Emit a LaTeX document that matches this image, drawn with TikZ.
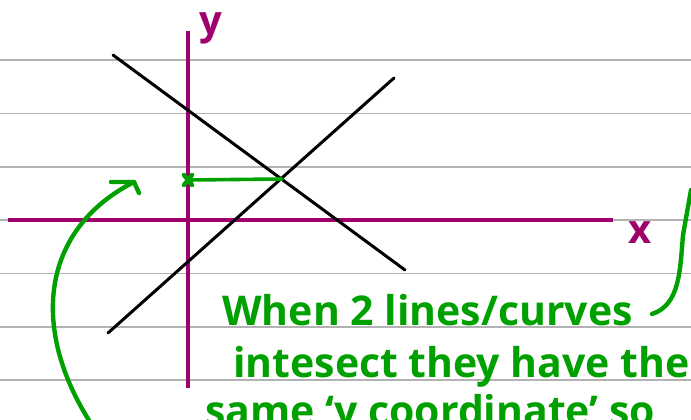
\documentclass[tikz,border=0pt]{standalone}
\usepackage{fontspec}
\setmainfont{Open Sans}
\usetikzlibrary{arrows.meta,calc}
\definecolor{rule}{RGB}{178,178,178}
\definecolor{axis}{RGB}{160,0,110}
\definecolor{pen}{RGB}{0,160,0}
\tikzset{
  ruleline/.style={rule, line width=1.6pt},
  axisline/.style={axis, line width=3.4pt},
  graphline/.style={black, line width=3pt, line cap=round},
  penline/.style={pen, line width=4.4pt, line cap=round, line join=round},
  pentext/.style={pen, anchor=base west, inner sep=0pt, font=\fontsize{41}{41}\selectfont\bfseries},
  axislabel/.style={axis, inner sep=0pt, font=\fontsize{40}{40}\selectfont\bfseries}
}
\begin{document}
\begin{tikzpicture}[x=1pt,y=-1pt]
\useasboundingbox (0,0) rectangle (691,420);
\clip (0,0) rectangle (691,420);
\fill[white] (0,0) rectangle (691,420);
% ruled paper
\foreach \yy in {60,113.3,166.7,220,273.3,326.7,380}
  \draw[ruleline] (0,\yy) -- (691,\yy);
% axes
\coordinate (ytop) at (188,31);
\coordinate (ybot) at (188,388);
\coordinate (xl) at (8,220);
\coordinate (xr) at (613,220);
\draw[axisline] (ybot) -- (ytop);
\draw[axisline] (xl) -- (xr);
\node[axislabel] (ylab) at (211,28) {y};
\node[axislabel] (xlab) at (640,233) {x};
% lines
\coordinate (a1) at (113,55);
\coordinate (a2) at (405,270);
\coordinate (b1) at (108,333);
\coordinate (b2) at (394,78);
\draw[graphline] (a1) -- (a2);
\draw[graphline] (b1) -- (b2);
% intersection projection
\coordinate (P) at (282,179);
\coordinate (Q) at (188,180);
\draw[penline, line width=3.6pt] (P) -- (Q);
\draw[penline] ($(Q)+(-4,-5)$) -- ($(Q)+(4,5)$);
\draw[penline] ($(Q)+(4,-5)$) -- ($(Q)+(-4,5)$);
% curved arrow
\coordinate (c0) at (92,425);
\coordinate (c1) at (134,182);
\draw[penline] (c0) .. controls (30,330) and (40,230) .. (c1);
\draw[penline] (111,182) -- (c1) -- (139,193);
% right curve
\coordinate (r0) at (652,314);
\coordinate (r1) at (691,190);
\draw[penline] (r0) .. controls (680,305) and (680,270) .. (683,235) -- (r1);
% text
\node[pentext] (t1) at (222,325) {When 2 lines/curves};
\node[pentext, anchor=base east] (t2) at (690,377) {intesect they have the};
\node[pentext] (t3) at (205,425) {same ‘y coordinate’ so};
\end{tikzpicture}
\end{document}
